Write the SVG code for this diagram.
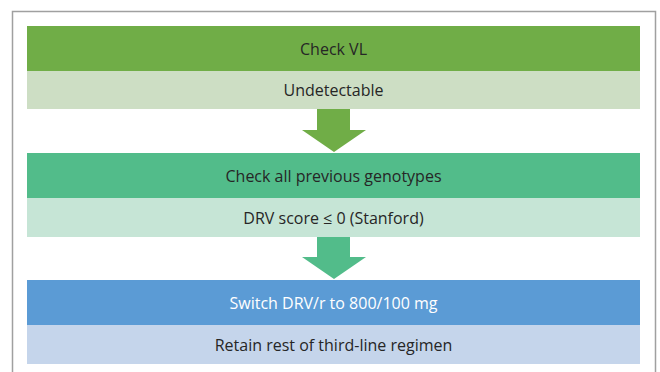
<svg xmlns="http://www.w3.org/2000/svg" width="660" height="372" viewBox="0 0 660 372">
<style>
.t{font-family:"Open Sans","Noto Sans","Liberation Sans",sans-serif;font-size:16px;text-anchor:middle;dominant-baseline:central;fill:#262626}
.w{fill:#ffffff}
</style>
<rect width="660" height="372" fill="#ffffff"/>
<path d="M12.5,373 V11.5 H655.5 V373" fill="none" stroke="#a0a0a0" stroke-width="1.5"/>
<g id="connectors">
<polygon points="317,109 350,109 350,130 366,130 334,152 302,130 317,130" fill="#70ad47"/>
<polygon points="317,237 350,237 350,257 366,257 334,279 302,257 317,257" fill="#52bc8a"/>
</g>
<g id="n1">
<rect x="27" y="26" width="613" height="45" fill="#70ad47"/>
<text class="t" x="333.5" y="48.5">Check VL</text>
</g>
<g id="n2">
<rect x="27" y="71" width="613" height="38" fill="#cddec4"/>
<text class="t" x="333.5" y="90">Undetectable</text>
</g>
<g id="n3">
<rect x="27" y="153" width="613" height="45" fill="#52bc8a"/>
<text class="t" x="333.5" y="175.5">Check all previous genotypes</text>
</g>
<g id="n4">
<rect x="27" y="198" width="613" height="39" fill="#c6e5d6"/>
<text class="t" x="333.5" y="217.5">DRV score ≤ 0 (Stanford)</text>
</g>
<g id="n5">
<rect x="27" y="280" width="613" height="45" fill="#5b9bd5"/>
<text class="t w" x="333.5" y="302.5">Switch DRV/r to 800/100 mg</text>
</g>
<g id="n6">
<rect x="27" y="325" width="613" height="39" fill="#c5d5eb"/>
<text class="t" x="333.5" y="344.5">Retain rest of third-line regimen</text>
</g>
</svg>
